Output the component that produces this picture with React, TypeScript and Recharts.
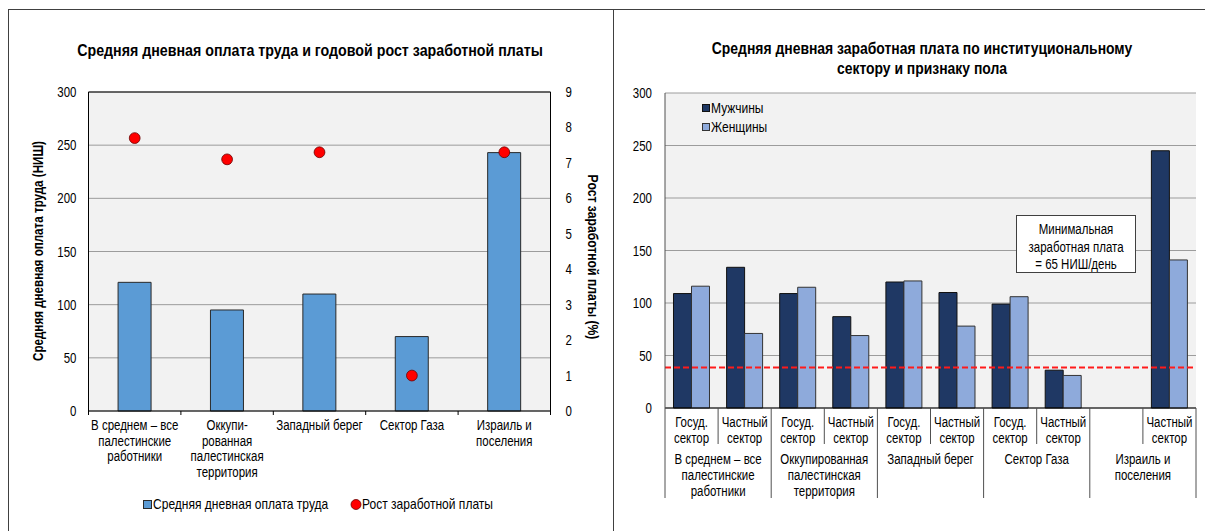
import React from 'react'
import { ComposedChart, BarChart, Bar, Scatter, XAxis, YAxis, CartesianGrid, ReferenceLine } from 'recharts'

// the reference uses a narrow face; no narrow font here, so regular Liberation Sans squeezed
const FONT = "'Liberation Sans', Arial, sans-serif"
const SQUEEZE = 0.82

// ---- left chart data
const regionIds = ['avg', 'opt', 'wb', 'gaza', 'isr']
const regionLabels = [
  ['В среднем – все', 'палестинские', 'работники'],
  ['Оккупи-', 'рованная', 'палестинская', 'территория'],
  ['Западный берег'],
  ['Сектор Газа'],
  ['Израиль и', 'поселения'],
]
const dailyWage = [121, 95, 110, 70, 243]
const wageGrowth = [7.7, 7.1, 7.3, 1.0, 7.3]
const wageTicks = [0, 50, 100, 150, 200, 250, 300]
const growthTicks = [0, 1, 2, 3, 4, 5, 6, 7, 8, 9]

// ---- right chart data
const sectorIds = ['c0', 'c1', 'c2', 'c3', 'c4', 'c5', 'c6', 'c7', 'c8', 'c9']
const sectorLabels = [
  ['Госуд.', 'сектор'], ['Частный', 'сектор'],
  ['Госуд.', 'сектор'], ['Частный', 'сектор'],
  ['Госуд.', 'сектор'], ['Частный', 'сектор'],
  ['Госуд.', 'сектор'], ['Частный', 'сектор'],
  [], ['Частный', 'сектор'],
]
const groupLabels = [
  ['В среднем – все', 'палестинские', 'работники'],
  ['Оккупированная', 'палестинская', 'территория'],
  ['Западный берег'],
  ['Сектор Газа'],
  ['Израиль и', 'поселения'],
]
const menWage = [109, 134, 109, 87, 120, 110, 99, 36, null, 245]
const womenWage = [116, 71, 115, 69, 121, 78, 106, 31, null, 141]
const minWageLevel = 38.5

const leftData = regionIds.map((id, i) => ({ id, wage: dailyWage[i], growth: wageGrowth[i] }))
const rightData = sectorIds.map((id, i) => ({ id, men: menWage[i], women: womenWage[i] }))

function NText({ x, y, children, anchor = 'middle', size = 14, bold = false, rotate = 0, sx = SQUEEZE }: any) {
  const rot = rotate ? ` rotate(${rotate})` : ''
  return (
    <text transform={`translate(${x},${y})${rot} scale(${sx},1)`} textAnchor={anchor}
      fontFamily={FONT} fontSize={size} fontWeight={bold ? 'bold' : 'normal'} fill="#000">
      {children}
    </text>
  )
}

function ValueTick({ x, y, payload, textAnchor }: any) {
  return <NText x={x} y={y + 5} anchor={textAnchor}>{payload.value}</NText>
}

function RegionTick({ x, y, payload, index }: any) {
  const i = payload?.index ?? index
  const half = payload?.offset ?? 46
  const lines = regionLabels[i] || []
  return (
    <g>
      <line x1={x - half} x2={x - half} y1={y} y2={y + 4} stroke="#000" />
      {i === regionLabels.length - 1 && <line x1={x + half} x2={x + half} y1={y} y2={y + 4} stroke="#000" />}
      {lines.map((l, k) => (
        <NText key={k} x={x} y={y + 19 + k * 15.7}>{l}</NText>
      ))}
    </g>
  )
}

function SectorTick({ x, y, payload, index }: any) {
  const i = payload?.index ?? index
  const half = payload?.offset ?? 26.5
  const lines = sectorLabels[i] || []
  const groupStart = i % 2 === 0
  const group = groupLabels[Math.floor(i / 2)] || []
  return (
    <g>
      <line x1={x - half} x2={x - half} y1={y} y2={y + (groupStart ? 90 : 36)} stroke="#505050" />
      {i === sectorLabels.length - 1 && <line x1={x + half} x2={x + half} y1={y} y2={y + 90} stroke="#505050" />}
      {lines.map((l, k) => (
        <NText key={k} x={x} y={y + 19 + k * 16}>{l}</NText>
      ))}
      {groupStart && group.map((l, k) => (
        <NText key={'g' + k} x={x + half} y={y + 56 + k * 16}>{l}</NText>
      ))}
    </g>
  )
}

function GrowthDot({ cx, cy }: any) {
  return <circle cx={cx} cy={cy} r={5.4} fill="#ff0000" stroke="#6b0000" strokeWidth={0.8} />
}

export default function App() {
  return (
    <div style={{ position: 'relative', width: 1205, height: 531, overflow: 'hidden', background: '#fff' }}>
      <style>{'body{margin:0;overflow:hidden}'}</style>

      {/* left chart */}
      <div style={{ position: 'absolute', left: 0, top: 0 }}>
        <ComposedChart width={613} height={531} data={leftData}
          margin={{ top: 92, right: 22.5, bottom: 60, left: 48.5 }} barCategoryGap="32%">
          <CartesianGrid yAxisId="left" vertical={false} fill="#f2f2f2" stroke="#9c9c9c" />
          <XAxis dataKey="id" interval={0} height={60} tickLine={false} tickSize={0} tickMargin={0}
            axisLine={{ stroke: '#000' }} tick={<RegionTick />} />
          <YAxis yAxisId="left" domain={[0, 300]} ticks={wageTicks} width={40} tickLine={false} tickSize={0}
            tickMargin={12} axisLine={{ stroke: '#000' }} tick={<ValueTick />} />
          <YAxis yAxisId="right" orientation="right" domain={[0, 9]} ticks={growthTicks} width={40}
            tickLine={false} tickSize={0} tickMargin={15} axisLine={{ stroke: '#000' }} tick={<ValueTick />} />
          <ReferenceLine yAxisId="left" y={300} stroke="#000" />
          <Bar yAxisId="left" dataKey="wage" fill="#5b9bd5" stroke="#2a2a2a" strokeWidth={1} isAnimationActive={false} />
          <Scatter yAxisId="right" dataKey="growth" shape={<GrowthDot />} isAnimationActive={false} />
        </ComposedChart>
      </div>

      {/* right chart */}
      <div style={{ position: 'absolute', left: 613, top: 0 }}>
        <BarChart width={613} height={531} data={rightData}
          margin={{ top: 93, right: 30, bottom: 23, left: 12 }} barCategoryGap="16%" barGap={0}>
          <CartesianGrid vertical={false} fill="#f2f2f2" stroke="#9c9c9c" />
          <XAxis dataKey="id" interval={0} height={100} tickLine={false} tickSize={0} tickMargin={0}
            axisLine={{ stroke: '#000' }} tick={<SectorTick />} />
          <YAxis domain={[0, 300]} ticks={wageTicks} width={40} tickLine={false} tickSize={0}
            tickMargin={13} axisLine={{ stroke: '#505050' }} tick={<ValueTick />} />
          <Bar dataKey="men" fill="#1f3864" stroke="#111" strokeWidth={1} isAnimationActive={false} />
          <Bar dataKey="women" fill="#8eaadb" stroke="#333" strokeWidth={1} isAnimationActive={false} />
          <ReferenceLine y={minWageLevel} stroke="#ff1a1a" strokeWidth={2} strokeDasharray="6 3" />
        </BarChart>
      </div>

      {/* frames, titles, legends, note */}
      <svg width={1205} height={531} style={{ position: 'absolute', left: 0, top: 0, pointerEvents: 'none' }}>
        <line x1={8} x2={1205} y1={9.5} y2={9.5} stroke="#404040" />
        <line x1={8.5} x2={8.5} y1={9} y2={531} stroke="#404040" />
        <line x1={613.5} x2={613.5} y1={9} y2={531} stroke="#404040" />

        <NText x={310} y={56} size={16} bold sx={0.89}>
          Средняя дневная оплата труда и годовой рост заработной платы
        </NText>
        <NText x={922} y={54} size={16} bold sx={0.87}>
          Средняя дневная заработная плата по институциональному
        </NText>
        <NText x={922} y={74} size={16} bold sx={0.87}>
          сектору и признаку пола
        </NText>

        <NText x={43} y={251} rotate={-90} bold sx={0.83}>Средняя дневная оплата труда (НИШ)</NText>
        <NText x={588} y={257} rotate={90} bold sx={0.87}>Рост заработной платы (%)</NText>

        <rect x={143.5} y={500.5} width={8} height={8} fill="#5b9bd5" stroke="#2a2a2a" />
        <NText x={153} y={509} anchor="start" sx={0.86}>Средняя дневная оплата труда</NText>
        <circle cx={356} cy={504.5} r={5} fill="#ff0000" stroke="#6b0000" strokeWidth={0.8} />
        <NText x={362} y={509} anchor="start" sx={0.86}>Рост заработной платы</NText>

        <rect x={702.5} y={104.5} width={7} height={7} fill="#1f3864" stroke="#111" />
        <NText x={711} y={113} anchor="start" sx={0.86}>Мужчины</NText>
        <rect x={702.5} y={123.5} width={7} height={7} fill="#8eaadb" stroke="#333" />
        <NText x={711} y={132} anchor="start" sx={0.86}>Женщины</NText>

        <rect x={1016.5} y={215.5} width={119} height={57} fill="#fff" stroke="#404040" />
        <NText x={1076} y={234}>Минимальная</NText>
        <NText x={1076} y={252}>заработная плата</NText>
        <NText x={1076} y={269}>= 65 НИШ/день</NText>
      </svg>
    </div>
  )
}
